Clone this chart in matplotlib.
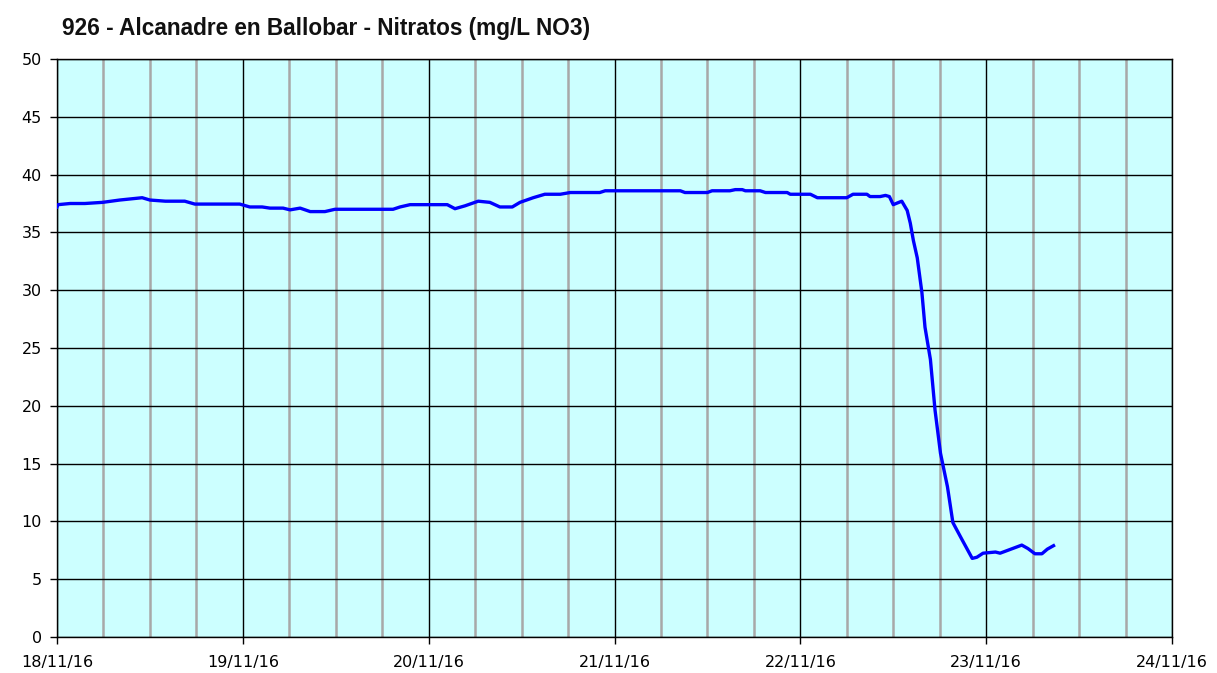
#!/usr/bin/python3
# import library
import numpy as np
import pandas as pd
import matplotlib
matplotlib.use("Agg")
from matplotlib import pyplot as plt
import matplotlib.dates as mdates

# hours since 18/11/16 00:00 and nitrate readings (mg/L NO3)
hours = [0.0, 0.13, 1.7, 3.6, 5.9, 8.1, 11.0, 12.0, 14.0, 16.5, 17.8, 23.6,
         24.9, 26.5, 27.5, 29.2, 30.1, 31.4, 32.7, 34.6, 35.9, 43.4, 44.3,
         45.6, 50.4, 51.4, 52.7, 54.4, 55.9, 57.2, 58.8, 59.8, 61.5, 63.0,
         65.0, 66.3, 70.1, 70.8, 80.5, 81.1, 84.0, 84.6, 86.9, 87.6, 88.5,
         88.9, 90.8, 91.5, 94.3, 94.7, 97.3, 98.2, 102.0, 102.8, 104.6,
         105.0, 106.3, 107.0, 107.5, 108.0, 109.1, 109.8, 110.2, 110.6,
         111.1, 111.7, 112.1, 112.8, 113.4, 114.1, 115.0, 115.7, 116.9,
         118.2, 118.8, 119.6, 121.2, 121.8, 122.8, 124.6, 125.4, 126.3,
         127.2, 127.9, 128.7]
nitratos = [37.2, 37.4, 37.5, 37.5, 37.6, 37.8, 38.0, 37.8, 37.7, 37.7,
            37.45, 37.45, 37.2, 37.2, 37.1, 37.1, 36.95, 37.1, 36.8, 36.8,
            37.0, 37.0, 37.2, 37.4, 37.4, 37.05, 37.3, 37.7, 37.6, 37.2,
            37.2, 37.6, 38.0, 38.3, 38.3, 38.45, 38.45, 38.6, 38.6, 38.45,
            38.45, 38.6, 38.6, 38.7, 38.7, 38.6, 38.6, 38.45, 38.45, 38.3,
            38.3, 38.0, 38.0, 38.3, 38.3, 38.1, 38.1, 38.2, 38.1, 37.4,
            37.7, 36.9, 35.8, 34.3, 32.8, 29.8, 26.8, 24.0, 19.6, 15.9,
            13.0, 9.9, 8.4, 6.8, 6.9, 7.25, 7.35, 7.25, 7.5, 7.95, 7.65,
            7.2, 7.2, 7.6, 7.9]
day_labels = ["18/11/16", "19/11/16", "20/11/16", "21/11/16",
              "22/11/16", "23/11/16", "24/11/16"]
title = "926 - Alcanadre en Ballobar - Nitratos (mg/L NO3)"

def main():
    start = pd.Timestamp("2016-11-18")
    times = start + pd.to_timedelta(hours, unit="h")
    days = pd.date_range(start, periods=len(day_labels), freq="D")

    fig = plt.figure(figsize=(12.17, 6.73), dpi=100)
    ax = fig.add_axes([57 / 1217, 36 / 673, 1115 / 1217, 578 / 673])
    ax.set_facecolor("#ccffff")

    ax.plot(times, nitratos, color="#0000ff", linewidth=2.4, zorder=3)

    ax.set_xlim(days[0], days[-1])
    ax.set_ylim(0, 50)

    # major ticks per day, minor every 6 hours
    ax.set_xticks(days)
    ax.set_xticklabels(day_labels)
    ax.xaxis.set_minor_locator(mdates.HourLocator(byhour=[6, 12, 18]))
    ax.set_yticks(np.arange(0, 51, 5))

    ax.grid(which="major", color="black", linewidth=1.0, zorder=1)
    ax.grid(which="minor", axis="x", color="#a8a8a8", linewidth=1.8, zorder=1)
    ax.set_axisbelow(True)

    ax.tick_params(which="major", direction="out", length=5, width=1,
                   labelsize=11.5, colors="black", pad=6)
    ax.tick_params(axis="x", pad=8)
    ax.tick_params(which="minor", length=0)
    for s in ax.spines.values():
        s.set_color("black")
        s.set_linewidth(1.0)

    fig.text(62 / 1217, 1 - 28 / 673, title, ha="left", va="center",
             fontsize=16.3, fontweight="bold", family="Liberation Sans",
             color="#111111")

    fig.savefig("out.png", dpi=100)

if __name__ == '__main__':
    main()
